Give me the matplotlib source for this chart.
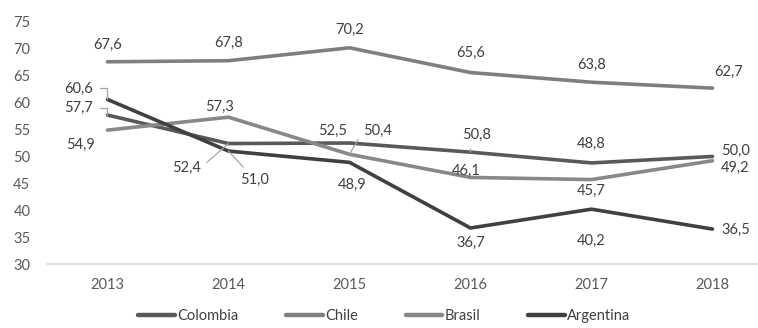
import matplotlib
matplotlib.use("Agg")
import matplotlib.pyplot as plt

plt.rcParams['font.family'] = ['Lato', 'DejaVu Sans']

years = ['2013', '2014', '2015', '2016', '2017', '2018']
colombia = [57.7, 52.4, 52.5, 50.8, 48.8, 50.0]
chile = [67.6, 67.8, 70.2, 65.6, 63.8, 62.7]
brasil = [54.9, 57.3, 50.4, 46.1, 45.7, 49.2]
argentina = [60.6, 51.0, 48.9, 36.7, 40.2, 36.5]

series = [
    ('Colombia', colombia, '#595959'),
    ('Chile', chile, '#7f7f7f'),
    ('Brasil', brasil, '#888888'),
    ('Argentina', argentina, '#404040'),
]

# label offsets in pixels (dx, dy) and whether a leader line is drawn
offsets = {
    'Colombia': [(-29, 7, 'angle'), (-42, -24, 'line'), (-17, 12, None), (6, 17, 'line'), (0, 19, None), (23, 6, None)],
    'Chile': [(0, 17, None), (0, 18, None), (0, 18, None), (0, 20, None), (0, 17, None), (16, 16, None)],
    'Brasil': [(-27, -15, None), (-9, 10, None), (28, 23, 'line'), (-4, 7, None), (0, -11, None), (23, -7, None)],
    'Argentina': [(-29, 11, 'angle'), (26, -29, 'line'), (3, -23, None), (0, -15, None), (0, -32, None), (23, -1, None)],
}

fig = plt.figure(figsize=(7.58, 3.28), dpi=100)
ax = fig.add_axes([0.062, 0.195, 0.945, 0.738])
x = list(range(len(years)))

for name, vals, col in series:
    ax.plot(x, vals, color=col, lw=2.6, label=name, solid_capstyle='round', solid_joinstyle='round')

for name, vals, col in series:
    for i, v in enumerate(vals):
        dx, dy, leader = offsets[name][i]
        txt = f'{v:.1f}'.replace('.', ',')
        if leader is None:
            ax.annotate(txt, (i, v), xytext=(dx, dy), textcoords='offset pixels',
                        ha='center', va='center', fontsize=10.5, color='#404040')
        else:
            if leader == 'angle':
                cs = 'angle,angleA=0,angleB=90,rad=0'
            else:
                cs = 'arc3'
            rel = (1, 0.5) if dx < 0 else (0, 0.5)
            if name == 'Colombia' and i == 3:
                rel = (0.3, 0.0)
            if name == 'Argentina' and i == 1:
                rel = (0.3, 1.0)
            ax.annotate(txt, (i, v), xytext=(dx, dy), textcoords='offset pixels',
                        ha='center', va='center', fontsize=10.5, color='#404040',
                        arrowprops=dict(arrowstyle='-', color='#a6a6a6', lw=0.9,
                                        connectionstyle=cs, relpos=rel,
                                        shrinkA=3, shrinkB=0))

ax.set_xlim(-0.5, 5.42)
ax.set_ylim(30, 75)
ax.set_yticks(range(30, 80, 5))
ax.set_xticks(x)
ax.set_xticklabels(years)
ax.tick_params(length=0, labelsize=10.5, labelcolor='#595959')
ax.tick_params(axis='x', pad=10)
ax.tick_params(axis='y', pad=12)
for s in ['top', 'right', 'left']:
    ax.spines[s].set_visible(False)
ax.spines['bottom'].set_color('#d9d9d9')
ax.spines['bottom'].set_linewidth(1.2)

leg = fig.legend(loc='lower center', bbox_to_anchor=(0.507, -0.025), ncol=4, frameon=False,
                 fontsize=10.5, handlelength=2.5, handletextpad=0.15, columnspacing=3.3,
                 labelcolor='#404040')
for h in leg.get_lines():
    h.set_linewidth(3.2)

fig.savefig('out.png', dpi=100)
